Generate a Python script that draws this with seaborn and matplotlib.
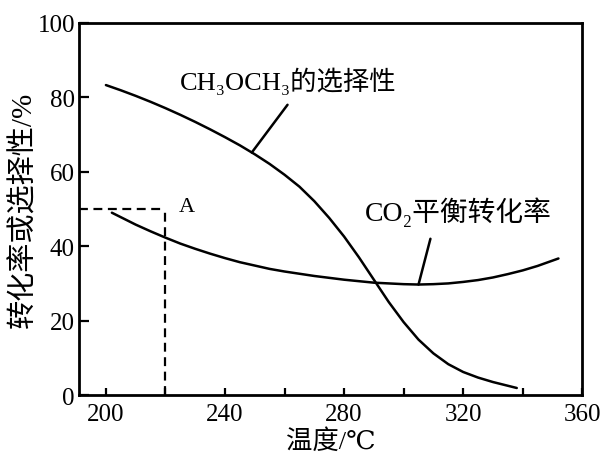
import numpy as np
import pandas as pd
import matplotlib
matplotlib.use("Agg")
import matplotlib.pyplot as plt
import seaborn as sns

# Temperature (°C) and values (%) for the two curves
dme_temp = [200, 205, 210, 215, 220, 225, 230, 235, 240, 245, 250, 255, 260, 265,
            270, 275, 280, 285, 290, 295, 300, 305, 310, 315, 320, 325, 330, 335, 338]
dme_sel = [83.3, 81.9, 80.4, 78.8, 77.1, 75.3, 73.4, 71.4, 69.3, 67.1, 64.7, 62.1, 59.2, 56.0,
           52.1, 47.6, 42.6, 37.0, 31.0, 25.0, 19.6, 14.9, 11.2, 8.3, 6.2, 4.7, 3.5, 2.5, 1.9]

co2_temp = [202, 205, 210, 215, 220, 225, 230, 235, 240, 245, 250, 255, 260, 265, 270, 275,
            280, 285, 290, 295, 300, 305, 310, 315, 320, 325, 330, 335, 340, 345, 352]
co2_conv = [49.0, 47.8, 45.8, 44.0, 42.3, 40.7, 39.3, 38.0, 36.8, 35.7, 34.8, 33.9, 33.2, 32.6,
            32.0, 31.5, 31.0, 30.6, 30.2, 30.0, 29.8, 29.7, 29.8, 30.0, 30.4, 30.9, 31.6, 32.5,
            33.5, 34.7, 36.7]

# Point A (dashed guide lines)
point_a = (220, 50)

x_ticks = [200, 240, 280, 320, 360]
x_minor = [220, 260, 300, 340]
y_ticks = [0, 20, 40, 60, 80, 100]

dme_label = "CH\u2083OCH\u2083的选择性"
co2_label = "CO\u2082平衡转化率"
x_label = "温度/℃"
y_label = "转化率或选择性/%"

sns.set_style("ticks")
fam = ["Liberation Serif", "DejaVu Serif", "Noto Sans CJK SC"]
plt.rcParams["font.family"] = fam
plt.rcParams["text.color"] = "black"
plt.rcParams["axes.labelcolor"] = "black"
plt.rcParams["xtick.color"] = "black"
plt.rcParams["ytick.color"] = "black"

fig = plt.figure(figsize=(6.04, 4.60), dpi=100)
ax = fig.add_axes([0.131, 0.139, 0.833, 0.809])

dme = pd.DataFrame({"T": dme_temp, "v": dme_sel})
co2 = pd.DataFrame({"T": co2_temp, "v": co2_conv})
sns.lineplot(data=dme, x="T", y="v", ax=ax, color="black", linewidth=1.8)
sns.lineplot(data=co2, x="T", y="v", ax=ax, color="black", linewidth=1.8)

xlo = 191
ax.set_xlim(xlo, 360)
ax.set_ylim(0, 100)

# dashed guides to point A
ax.hlines(point_a[1], xlo, point_a[0], colors="black", linestyles=(0, (4, 2.5)), linewidth=1.6)
ax.vlines(point_a[0], 0, point_a[1], colors="black", linestyles=(0, (4, 2.5)), linewidth=1.6)
ax.text(point_a[0] + 4.5, point_a[1] + 0.8, "A", fontsize=16, ha="left", va="center")

# curve labels with leader lines
t_dme = 249
ax.annotate("", xy=(t_dme, np.interp(t_dme, dme_temp, dme_sel)), xytext=(261, 78),
            arrowprops=dict(arrowstyle="-", color="black", lw=1.8, shrinkA=0, shrinkB=0))
ax.text(225, 84.5, dme_label, fontsize=19, ha="left", va="center")

t_co2 = 305
ax.annotate("", xy=(t_co2, np.interp(t_co2, co2_temp, co2_conv)), xytext=(309, 42),
            arrowprops=dict(arrowstyle="-", color="black", lw=1.8, shrinkA=0, shrinkB=0))
ax.text(287, 49.5, co2_label, fontsize=20, ha="left", va="center")

ax.set_xticks(x_ticks)
ax.set_xticks(x_minor, minor=True)
ax.set_yticks(y_ticks)
ax.tick_params(axis="x", which="both", direction="in", length=5, width=1.6,
               labelsize=18, pad=6, color="black", labelcolor="black")
ax.tick_params(axis="y", direction="in", length=7, width=1.6, labelsize=18, pad=3,
               color="black", labelcolor="black")
for lab in ax.get_xticklabels() + ax.get_yticklabels():
    lab.set_family(fam)

ax.set_xlabel(x_label, fontsize=19, labelpad=2)
ax.set_ylabel(y_label, fontsize=21, labelpad=0)

for s in ax.spines.values():
    s.set_visible(True)
    s.set_linewidth(2.0)
    s.set_color("black")

fig.savefig("out.png", dpi=100)
